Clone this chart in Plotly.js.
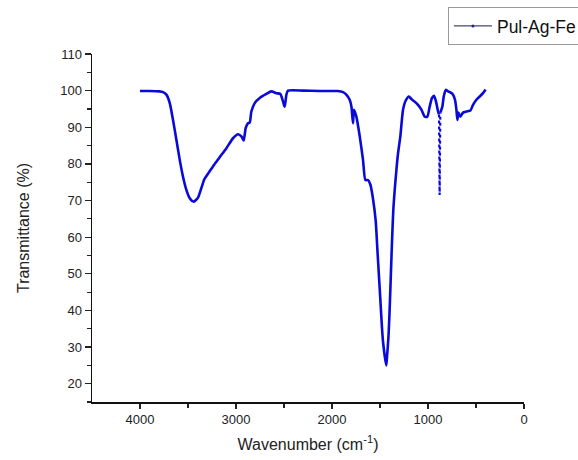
<!DOCTYPE html>
<html>
<head>
<meta charset="utf-8">
<script src="https://cdn.plot.ly/plotly-3.0.1.min.js"></script>
<style>html,body{margin:0;padding:0;background:#fff;}#chart{width:578px;height:460px;}</style>
</head>
<body>
<div id="chart"></div>
<script>
// Main FTIR spectrum (null = gap where the sharp dotted band is drawn separately)
const wavenumber = [4000, 3900, 3800, 3760, 3725, 3690, 3656, 3621, 3586, 3552, 3517, 3482, 3440, 3396, 3360, 3330, 3292, 3240, 3170, 3100, 3031, 2979, 2944, 2920, 2899, 2875, 2857, 2840, 2805, 2753, 2684, 2632, 2580, 2538, 2510, 2493, 2475, 2458, 2300, 2128, 2024, 1940, 1885, 1851, 1816, 1798, 1781, 1771, 1746, 1711, 1677, 1652, 1625, 1600, 1573, 1545, 1527, 1496, 1470, 1435, 1427, 1410, 1396, 1378, 1360, 1329, 1312, 1288, 1260, 1232, 1198, 1173, 1139, 1104, 1069, 1034, 1007, 982, 958, 937, 913, 895, 885, null, 872, 850, 836, 815, 791, 767, 739, 719, 704, 694, 683, 663, 635, 600, 558, 531, 496, 461, 427, 400];
const transmittance = [99.9, 99.9, 99.8, 99.6, 98.9, 96.6, 92.0, 86.6, 81.1, 76.5, 72.9, 70.6, 69.7, 70.8, 73.5, 75.8, 77.3, 79.3, 81.8, 84.3, 87.0, 88.1, 87.5, 86.4, 89.8, 91.1, 91.3, 94.3, 96.6, 98.0, 99.1, 99.8, 99.3, 99.1, 97.0, 95.6, 98.9, 100.0, 100.0, 99.9, 99.9, 99.9, 99.6, 98.9, 97.5, 95.7, 91.1, 94.8, 92.9, 87.5, 81.1, 75.6, 75.6, 74.3, 70.5, 64.5, 56.5, 42.8, 31.9, 25.0, 27.3, 33.7, 42.8, 56.5, 68.0, 78.4, 82.9, 87.5, 94.8, 97.3, 98.4, 97.7, 97.0, 96.1, 94.8, 92.9, 92.9, 95.7, 98.0, 98.6, 96.6, 94.3, 93.5, null, 94.0, 95.7, 98.4, 100.2, 99.8, 99.5, 98.9, 97.5, 94.8, 92.0, 94.0, 92.9, 94.0, 94.3, 94.6, 96.1, 97.5, 98.4, 99.3, 100.3];
// Sharp band near 880 cm-1 (drawn dotted in the original)
const bandWavenumber = [885, 879, 872];
const bandTransmittance = [93.5, 71.5, 94.0];

const seriesName = 'Pul-Ag-Fe';
const xTitle = 'Wavenumber (cm<sup>-1</sup>)';
const yTitle = 'Transmittance (%)';

const blue = '#0a0ad8';
const font = '"Liberation Sans", Arial, sans-serif';

const traces = [
  {
    x: wavenumber, y: transmittance, type: 'scatter', mode: 'lines',
    name: seriesName, connectgaps: false, showlegend: false,
    line: {color: blue, width: 2.6, shape: 'spline', smoothing: 0.6}
  },
  {
    x: bandWavenumber, y: bandTransmittance, type: 'scatter', mode: 'lines',
    showlegend: false,
    line: {color: blue, width: 2.2, dash: 'dot'}
  },
  // legend entry (thin line with small point, as in the original legend)
  {
    x: [null], y: [null], type: 'scatter', mode: 'lines+markers',
    name: seriesName, showlegend: true,
    line: {color: '#1a1a40', width: 1},
    marker: {color: '#2020a0', size: 3}
  }
];

const layout = {
  width: 578, height: 460,
  paper_bgcolor: '#fff', plot_bgcolor: '#fff',
  margin: {l: 92, r: 54, t: 54, b: 58, autoexpand: false},
  font: {family: font, color: '#222', size: 13},
  showlegend: true,
  legend: {
    x: 0.824, y: 1.135, xanchor: 'left', yanchor: 'top',
    bordercolor: '#9a9a9a', borderwidth: 1, bgcolor: '#fff',
    font: {family: font, size: 17.5, color: '#111'},
    itemwidth: 38, tracegroupgap: 0
  },
  xaxis: {
    range: [4500, 0], autorange: false,
    tickvals: [4000, 3000, 2000, 1000, 0],
    ticks: 'outside', ticklen: 5, tickwidth: 1.3, tickcolor: '#222',
    minor: {tickvals: [3500, 2500, 1500, 500], ticks: 'outside', ticklen: 4, tickwidth: 1.2, tickcolor: '#222'},
    showline: true, linecolor: '#111', linewidth: 1.5,
    showgrid: false, zeroline: false,
    tickfont: {size: 13, color: '#222'},
    title: {text: xTitle, font: {size: 16, color: '#222'}, standoff: 12}
  },
  yaxis: {
    range: [15, 110], autorange: false,
    tickvals: [20, 30, 40, 50, 60, 70, 80, 90, 100, 110],
    ticks: 'outside', ticklen: 6, tickwidth: 1.3, tickcolor: '#222',
    minor: {tickvals: [15, 25, 35, 45, 55, 65, 75, 85, 95, 105], ticks: 'outside', ticklen: 3.5, tickwidth: 1.2, tickcolor: '#222'},
    showline: true, linecolor: '#111', linewidth: 1.5,
    showgrid: false, zeroline: false,
    tickfont: {size: 13, color: '#222'},
    title: {text: yTitle, font: {size: 16, color: '#222'}, standoff: 26}
  }
};

Plotly.newPlot('chart', traces, layout, {displayModeBar: false, staticPlot: true});
</script>
</body>
</html>
